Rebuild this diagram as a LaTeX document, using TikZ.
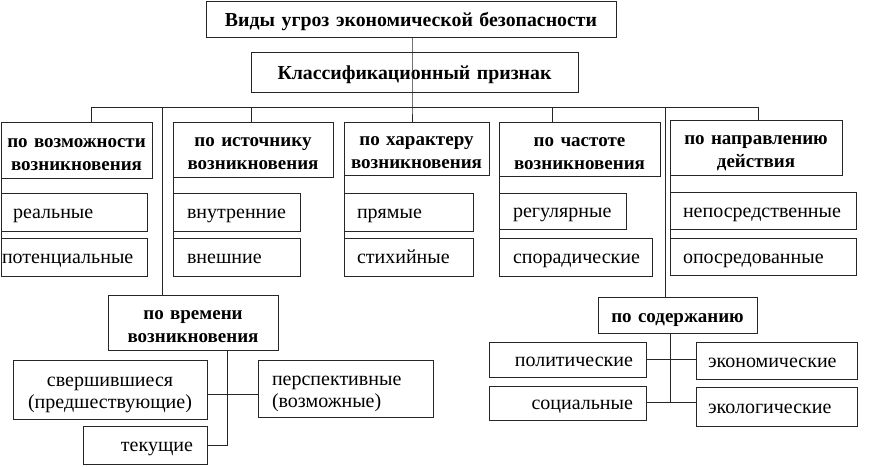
\documentclass[tikz,border=0pt]{standalone}
\usepackage{fontspec}
\setmainfont{Liberation Serif}
\tikzset{
  boxst/.style={draw=black!85, line width=0.9pt, rectangle, inner ysep=0pt, outer sep=0pt, fill=white},
  hd/.style={font=\bfseries\fontsize{19}{23}\selectfont, text height=17pt, text depth=23pt},
  hdone/.style={font=\bfseries\fontsize{19}{23}\selectfont, text height=15pt, text depth=0pt},
  it/.style={font=\fontsize{20}{22}\selectfont, text height=13pt, text depth=0pt},
  ittwo/.style={font=\fontsize{20}{22}\selectfont, text height=16pt, text depth=22pt},
  ttl/.style={font=\bfseries\fontsize{19.8}{23}\selectfont, text height=15pt, text depth=0pt},
  ln/.style={draw=black!85, line width=1pt}
}
% name, x1, y1, x2, y2, align, pad, style, text
\newcommand\bxx[9]{%
  \pgfmathsetmacro\bxw{#4-#2-2*#7}%
  \pgfmathsetmacro\bxh{#5-#3}%
  \node[boxst, #8, inner xsep=#7pt, text width=\bxw pt, minimum height=\bxh pt, align=#6] (#1) at ({(#2+#4)/2},{(#3+#5)/2}) {#9};}
\begin{document}
\begin{tikzpicture}[x=1pt, y=-1pt]
\useasboundingbox[fill=white] (0,0) rectangle (870,466);
\coordinate (busL) at (91,107);
\coordinate (busR) at (758,107);
\coordinate (d1) at (91,107);
\coordinate (d2) at (162,107);
\coordinate (d3) at (251,107);
\coordinate (d4) at (412,107);
\coordinate (d5) at (552,107);
\coordinate (d6) at (665,107);
\coordinate (d7) at (758,107);
% title boxes
\bxx{title}{206}{1}{616}{37}{center}{2}{ttl}{Виды угроз экономической безопасности}
\bxx{klass}{251}{52}{578}{92}{center}{2}{ttl}{Классификационный признак}
% headers
\bxx{h1}{1}{122}{152}{178}{center}{1}{hd}{по возможности\\возникновения}
\bxx{h2}{173}{122}{333}{177}{center}{2}{hd}{по источнику\\возникновения}
\bxx{h3}{344}{122}{489}{175}{center}{1}{hd}{по характеру\\возникновения}
\bxx{h4}{499}{122}{660}{176}{center}{2}{hd}{по частоте\\возникновения}
\bxx{h5}{670}{120}{842}{175}{center}{2}{hd}{по направлению\\действия}
% children
\bxx{c11}{1}{193}{147}{231}{left}{12}{it}{реальные}
\bxx{c12}{1}{238}{147}{276}{left}{1}{it}{потенциальные}
\bxx{c21}{173}{193}{300}{231}{left}{14}{it}{внутренние}
\bxx{c22}{173}{238}{300}{276}{left}{14}{it}{внешние}
\bxx{c31}{344}{193}{473}{231}{left}{13}{it}{прямые}
\bxx{c32}{344}{238}{473}{276}{left}{13}{it}{стихийные}
\bxx{c41}{499}{193}{626}{229}{left}{14}{it}{регулярные}
\bxx{c42}{499}{238}{652}{276}{left}{14}{it}{спорадические}
\bxx{c51}{670}{192}{856}{229}{left}{13}{it}{непосредственные}
\bxx{c52}{670}{238}{856}{275}{left}{13}{it}{опосредованные}
% time group
\bxx{tm}{108}{295}{278}{350}{center}{2}{hd}{по времени\\возникновения}
\bxx{t1}{13}{360}{207}{419}{center}{2}{ittwo}{свершившиеся\\(предшествующие)}
\bxx{t2}{258}{360}{433}{417}{left}{14}{ittwo}{перспективные\\(возможные)}
\bxx{t3}{83}{426}{207}{464}{right}{14}{it}{текущие}
% content group
\bxx{sd}{598}{297}{757}{333}{center}{2}{hdone}{по содержанию}
\bxx{s1}{489}{342}{646}{377}{right}{13}{it}{политические}
\bxx{s2}{696}{342}{857}{379}{left}{12}{it}{экономические}
\bxx{s3}{489}{386}{646}{420}{right}{13}{it}{социальные}
\bxx{s4}{696}{387}{857}{426}{left}{12}{it}{экологические}
% lines
\draw[ln] (title.south -| d4) -- (d4) -- (d4 |- h3.north);
\draw[ln] (busL) -- (busR);
\draw[ln] (d1) -- (d1 |- h1.north);
\draw[ln] (d2) -- (d2 |- tm.north);
\draw[ln] (d3) -- (d3 |- h2.north);
\draw[ln] (d5) -- (d5 |- h4.north);
\draw[ln] (d6) -- (d6 |- sd.north);
\draw[ln] (d7) -- (d7 |- h5.north);
% spines
\draw[ln] (h1.south west) -- (c12.north west);
\draw[ln] (h2.south west) -- (c22.north west);
\draw[ln] (h3.south west) -- (c32.north west);
\draw[ln] (h4.south west) -- (c42.north west);
\draw[ln] (h5.south west) -- (c52.north west);
% time connectors
\coordinate (tv) at (227,350);
\coordinate (th) at (227,394);
\draw[ln] (tv) -- (tv |- t3.east) -- (t3.east);
\draw[ln] (t1.east |- th) -- (t2.west |- th);
% content connectors
\coordinate (sv) at (670,333);
\coordinate (sb) at (670,402);
\draw[ln] (sv) -- (sb);
\draw[ln] (s1.east) -- (s1.east -| s2.west);
\draw[ln] (s3.east |- sb) -- (s4.west |- sb);
\end{tikzpicture}
\end{document}
